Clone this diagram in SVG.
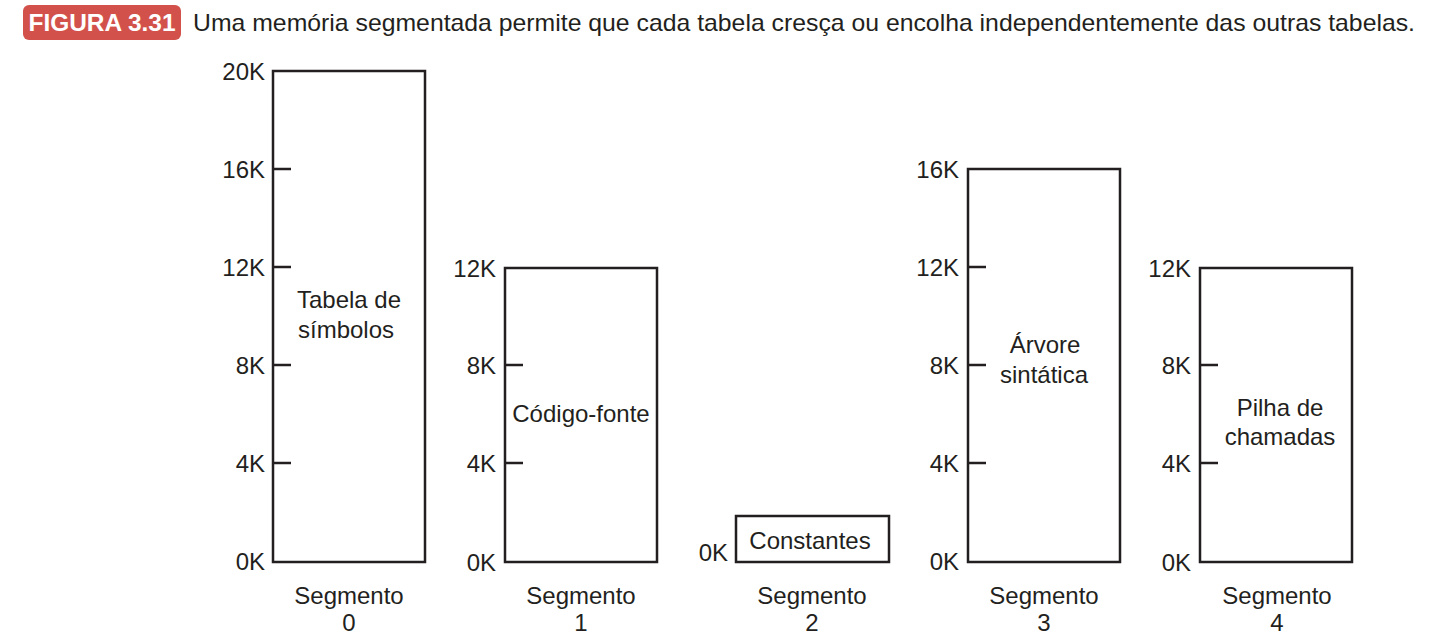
<svg xmlns="http://www.w3.org/2000/svg" width="1430" height="641" viewBox="0 0 1430 641">
<style>
text{font-family:"Liberation Sans",Arial,sans-serif;fill:#231f20}
.ax{font-size:24px;text-anchor:end}
.lb{font-size:24px;text-anchor:middle}
.box{fill:#fff;stroke:#231f20;stroke-width:2.5}
.tk{stroke:#231f20;stroke-width:2.5}
</style>
<rect width="1430" height="641" fill="#fff"/>
<g id="title">
<rect x="23" y="5" width="158" height="35" rx="6" fill="#d2524b"/>
<text x="102" y="31" font-size="24" font-weight="bold" text-anchor="middle" textLength="147" lengthAdjust="spacingAndGlyphs" style="fill:#fff">FIGURA 3.31</text>
<text x="193" y="31" font-size="24" textLength="1222" lengthAdjust="spacingAndGlyphs">Uma memória segmentada permite que cada tabela cresça ou encolha independentemente das outras tabelas.</text>
</g>
<g id="seg0">
<rect class="box" x="273" y="71" width="152" height="491"/>
<line class="tk" x1="273" y1="169" x2="291" y2="169"/>
<line class="tk" x1="273" y1="267" x2="291" y2="267"/>
<line class="tk" x1="273" y1="365" x2="291" y2="365"/>
<line class="tk" x1="273" y1="463" x2="291" y2="463"/>
<text class="ax" x="265" y="80">20K</text>
<text class="ax" x="265" y="178">16K</text>
<text class="ax" x="265" y="276">12K</text>
<text class="ax" x="265" y="374">8K</text>
<text class="ax" x="265" y="472">4K</text>
<text class="ax" x="265" y="570">0K</text>
<text class="lb" x="349" y="308">Tabela de</text>
<text class="lb" x="346" y="338">símbolos</text>
<text class="lb" x="349" y="604">Segmento</text>
<text class="lb" x="349" y="631">0</text>
</g>
<g id="seg1">
<rect class="box" x="505" y="268" width="152" height="294"/>
<line class="tk" x1="505" y1="365" x2="523" y2="365"/>
<line class="tk" x1="505" y1="463" x2="523" y2="463"/>
<text class="ax" x="496" y="277">12K</text>
<text class="ax" x="496" y="374">8K</text>
<text class="ax" x="496" y="472">4K</text>
<text class="ax" x="496" y="571">0K</text>
<text class="lb" x="581" y="422">Código-fonte</text>
<text class="lb" x="581" y="604">Segmento</text>
<text class="lb" x="581" y="631">1</text>
</g>
<g id="seg2">
<rect class="box" x="736" y="516" width="153" height="46"/>
<text class="ax" x="728" y="561">0K</text>
<text class="lb" x="810" y="549">Constantes</text>
<text class="lb" x="812" y="604">Segmento</text>
<text class="lb" x="812" y="631">2</text>
</g>
<g id="seg3">
<rect class="box" x="968" y="169" width="152" height="393"/>
<line class="tk" x1="968" y1="267" x2="986" y2="267"/>
<line class="tk" x1="968" y1="365" x2="986" y2="365"/>
<line class="tk" x1="968" y1="463" x2="986" y2="463"/>
<text class="ax" x="959" y="178">16K</text>
<text class="ax" x="959" y="276">12K</text>
<text class="ax" x="959" y="374">8K</text>
<text class="ax" x="959" y="472">4K</text>
<text class="ax" x="959" y="570">0K</text>
<text class="lb" x="1045" y="353">Árvore</text>
<text class="lb" x="1044" y="383">sintática</text>
<text class="lb" x="1044" y="604">Segmento</text>
<text class="lb" x="1044" y="631">3</text>
</g>
<g id="seg4">
<rect class="box" x="1200" y="268" width="152" height="294"/>
<line class="tk" x1="1200" y1="365" x2="1218" y2="365"/>
<line class="tk" x1="1200" y1="463" x2="1218" y2="463"/>
<text class="ax" x="1191" y="277">12K</text>
<text class="ax" x="1191" y="374">8K</text>
<text class="ax" x="1191" y="472">4K</text>
<text class="ax" x="1191" y="571">0K</text>
<text class="lb" x="1280" y="416">Pilha de</text>
<text class="lb" x="1280" y="445">chamadas</text>
<text class="lb" x="1277" y="604">Segmento</text>
<text class="lb" x="1277" y="631">4</text>
</g>
<g id="connectors"></g>
</svg>
